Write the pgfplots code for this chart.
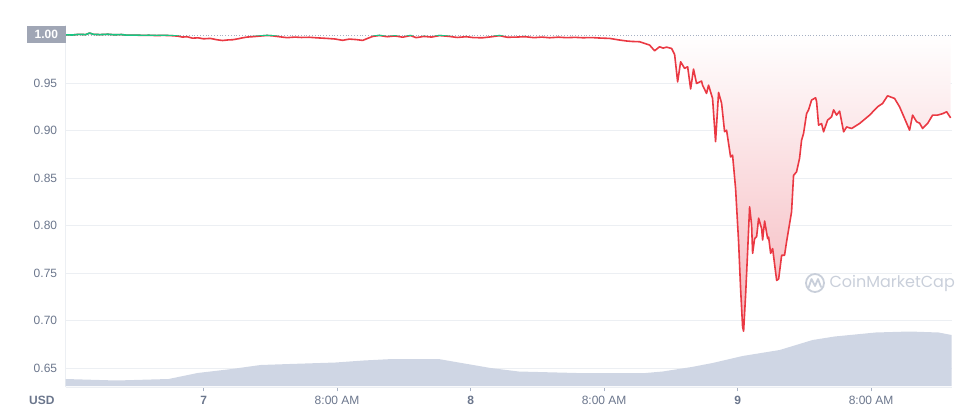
\documentclass[border=0pt]{standalone}
\usepackage{pgfplots}
\pgfplotsset{compat=1.18}
\usepackage{pgfplotstable}
\usepackage{fontspec}
\setmainfont{Liberation Sans}
\newfontfamily\wmfont{Poppins}
\definecolor{pricered}{HTML}{EA3943}
\definecolor{pricegreen}{HTML}{16C784}
\definecolor{volfill}{HTML}{CFD6E4}
\definecolor{gridc}{HTML}{ECEFF3}
\definecolor{labc}{HTML}{6B768C}
\definecolor{boxc}{HTML}{A0A6B5}
\definecolor{dotc}{HTML}{A6B0C3}
\definecolor{pinkfill}{RGB}{245,182,188}
\definecolor{wmc}{HTML}{C9CFDA}

% price in USD, x = hours from start of day 7
\pgfplotstableread{
h p
-12.40 1.0010
-11.80 1.0008
-11.20 1.0015
-10.60 1.0012
-10.25 1.0028
-9.90 1.0015
-9.30 1.0012
-8.60 1.0016
-8.00 1.0010
-7.40 1.0013
-6.90 1.0006
-6.20 1.0007
-5.50 1.0004
-4.90 1.0005
-4.20 1.0002
-3.60 1.0004
-2.90 1.0001
-2.30 0.9996
-1.90 0.9986
-1.50 0.9990
-1.00 0.9975
-0.50 0.9978
0.00 0.9968
0.60 0.9972
1.20 0.9958
1.70 0.9950
2.20 0.9956
2.60 0.9958
3.10 0.9968
3.50 0.9978
3.90 0.9986
4.40 0.9990
5.00 0.9996
5.70 1.0003
6.20 0.9999
6.80 0.9990
7.50 0.9980
8.20 0.9986
8.80 0.9982
9.50 0.9984
10.20 0.9978
11.10 0.9972
11.80 0.9966
12.50 0.9952
13.10 0.9965
13.70 0.9960
14.30 0.9951
14.80 0.9975
15.20 0.9993
15.80 1.0003
16.50 0.9990
17.20 0.9998
17.90 0.9985
18.60 1.0002
19.10 0.9980
19.80 0.9993
20.50 0.9986
21.20 1.0002
22.10 0.9993
22.80 0.9982
23.60 0.9990
24.30 0.9980
25.10 0.9979
25.80 0.9988
26.60 1.0001
27.30 0.9984
28.10 0.9986
28.90 0.9990
29.70 0.9980
30.40 0.9986
31.10 0.9979
31.90 0.9985
32.60 0.9980
33.40 0.9983
34.10 0.9979
34.90 0.9981
35.60 0.9976
36.50 0.9972
37.39 0.9955
38.00 0.9945
38.50 0.9940
39.19 0.9937
40.09 0.9902
40.54 0.9842
40.99 0.9884
41.30 0.9870
41.62 0.9880
42.07 0.9866
42.34 0.9803
42.61 0.9515
42.88 0.9726
43.24 0.9656
43.51 0.9674
43.78 0.9440
44.04 0.9649
44.31 0.9498
44.76 0.9523
44.85 0.9480
45.21 0.9393
45.39 0.9480
45.75 0.9340
46.02 0.8885
46.29 0.9403
46.56 0.9290
46.83 0.8990
47.01 0.9006
47.37 0.8725
47.55 0.8743
47.82 0.8392
48.09 0.7830
48.27 0.7338
48.45 0.6935
48.54 0.6890
48.72 0.7270
48.90 0.7725
49.08 0.8200
49.26 0.8007
49.35 0.7710
49.53 0.7865
49.71 0.7885
49.89 0.8080
50.16 0.7970
50.25 0.7850
50.43 0.8050
50.70 0.7865
50.79 0.7880
50.97 0.7710
51.15 0.7760
51.51 0.7425
51.69 0.7440
51.96 0.7690
52.22 0.7690
52.40 0.7830
52.85 0.8145
53.03 0.8530
53.30 0.8568
53.57 0.8710
53.75 0.8900
53.93 0.8972
54.20 0.9180
54.38 0.9220
54.65 0.9323
55.01 0.9347
55.10 0.9307
55.28 0.9060
55.55 0.9075
55.73 0.8989
56.09 0.9112
56.45 0.9147
56.63 0.9220
56.90 0.9165
57.17 0.9207
57.53 0.8989
57.80 0.9040
58.25 0.9024
58.97 0.9077
59.87 0.9165
60.58 0.9252
61.03 0.9287
61.48 0.9368
62.11 0.9340
62.56 0.9252
63.01 0.9130
63.46 0.9006
63.73 0.9165
64.09 0.9095
64.36 0.9080
64.63 0.9024
65.08 0.9077
65.53 0.9165
65.98 0.9165
66.43 0.9180
66.79 0.9200
67.15 0.9136
}\price

% volume (relative units)
\pgfplotstableread{
h v
-12.40 7
-7.82 5.5
-3.15 7
-0.54 13
2.52 17
5.12 21
7.73 22
11.87 23.5
14.38 25.5
16.99 27
21.12 27
23.19 23
25.80 18
28.31 14.5
33.53 13
39.73 13
41.26 14.5
43.87 19
45.75 23
48.45 30
51.78 36
54.74 46
56.72 49.5
60.40 53.5
63.46 54.5
66.07 53.5
67.24 51
}\volume

\begin{document}
\begin{tikzpicture}[x=1pt,y=1pt]
\begin{axis}[
  name=main,
  at={(59,30)}, anchor=south west,
  scale only axis, width=886pt, height=362pt,
  xmin=-12.4, xmax=67.24, ymin=0.6298, ymax=1.0108,
  axis x line=bottom, axis y line=left,
  axis line style={draw=gridc, -},
  ymajorgrids, grid style={draw=gridc, line width=0.6pt},
  ytick={0.65,0.70,0.75,0.80,0.85,0.90,0.95},
  yticklabels={0.65,0.70,0.75,0.80,0.85,0.90,0.95},
  ytick style={draw=none},
  xtick={0,12,24,36,48,60},
  xticklabels={\textbf{7},8:00 AM,\textbf{8},8:00 AM,\textbf{9},8:00 AM},
  xtick style={draw=dotc, line width=0.6pt},
  tick align=outside, major tick length=4pt,
  tick label style={font=\fontsize{12}{14}\selectfont, text=labc},
  yticklabel style={xshift=-1pt},
  xticklabel style={yshift=-1pt},
  clip=true,
]
\addplot[top color=white, bottom color=pinkfill, draw=none, forget plot] table[x=h,y=p] {\price} -- (axis cs:67.15,1) -- (axis cs:-12.4,1) -- cycle;
\addplot[dotc, dotted, line width=0.8pt] coordinates {(-12.4,1) (67.24,1)};
\addplot[pricered, line width=1.6pt, line join=round] table[x=h,y=p] {\price};
\begin{scope}
\clip (axis cs:-13,1.0) rectangle (axis cs:68,1.02);
\addplot[pricegreen, line width=1.6pt, line join=round] table[x=h,y=p] {\price};
\end{scope}
\end{axis}
\begin{axis}[
  at={(59,30)}, anchor=south west,
  scale only axis, width=886pt, height=362pt,
  xmin=-12.4, xmax=67.24, ymin=0, ymax=362,
  axis lines=none,
]
\addplot[fill=volfill, draw=none] table[x=h,y=v] {\volume} \closedcycle;
\end{axis}
% reference price label and currency label
\node[anchor=east, fill=boxc, text=white, minimum width=39pt, minimum height=17pt, inner sep=0pt, font=\fontsize{12}{14}\selectfont\bfseries] at (66,381.7) {1.00};
\node[anchor=east, font=\fontsize{12}{14}\selectfont\bfseries, text=labc] at (58,16) {USD};
% watermark
\draw[wmc, line width=1.8pt] (815,133) circle (9);
\draw[wmc, line width=1.8pt, line join=round, line cap=round] (808.5,128) -- (811.5,137) -- (815,130) -- (818,137) -- (821,129);
\node[anchor=west, text=wmc, font=\wmfont\fontsize{16}{18}\selectfont] at (826,133) {CoinMarketCap};
\pgfresetboundingbox
\path[use as bounding box] (0,0) rectangle (969,416);
\end{tikzpicture}
\end{document}
